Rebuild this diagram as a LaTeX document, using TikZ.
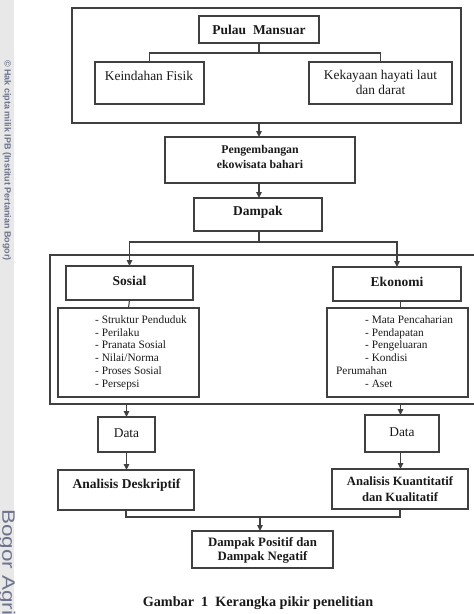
\documentclass[tikz,border=0pt]{standalone}
\usepackage{fontspec}
\setmainfont{Liberation Serif}
\newfontfamily\wmfont{Liberation Sans}
\usetikzlibrary{arrows.meta}
\definecolor{ln}{gray}{0.25}
\definecolor{wm}{RGB}{110,116,140}
\definecolor{strip}{gray}{0.91}
\tikzset{
  box/.style={draw=ln, line width=1.1pt, inner sep=0pt, outer sep=0pt},
  con/.style={draw=ln, line width=1.1pt},
  arr/.style={con, -{Triangle[length=6pt,width=5.5pt]}},
  txt/.style={inner sep=0pt, align=center, text=black!90},
  fA/.style={txt, font=\fontsize{13.4}{14.5}\selectfont},
  fB/.style={txt, font=\fontsize{13.5}{14.5}\selectfont\bfseries},
  fC/.style={txt, font=\fontsize{11.8}{15}\selectfont\bfseries},
  fK/.style={txt, font=\fontsize{12.6}{16}\selectfont\bfseries},
  fD/.style={txt, font=\fontsize{12.8}{14}\selectfont\bfseries},
  fL/.style={inner sep=0pt, align=left, text=black!90, font=\fontsize{11.3}{12.7}\selectfont},
}
\begin{document}
\begin{tikzpicture}[x=1pt,y=-1pt]
\useasboundingbox (0,0) rectangle (474,614);
% watermark strip
\fill[strip] (0,0) rectangle (14,614);
\node[rotate=-90, anchor=west, inner sep=0pt, text=wm, font=\wmfont\fontsize{9}{9}\selectfont\bfseries] (wma) at (7,60) {©~Hak cipta milik IPB (Institut Pertanian Bogor)};
\node[rotate=-90, anchor=west, inner sep=0pt, text=wm, font=\wmfont\fontsize{18}{18}\selectfont] (wmb) at (7,509) {\scalebox{1.25}[1]{Bogor Agri}};

% top group
\node[box, minimum width=389pt, minimum height=115pt] (outer1) at (266.5,65.5) {};
\node[box, minimum width=120pt, minimum height=27pt] (pm) at (259,29.5) {};
\node[fB] (pmt) at (259,30) {Pulau~~Mansuar};
\node[box, minimum width=109pt, minimum height=42pt] (kf) at (149.5,83) {};
\node[fA] (kft) at (149,75.5) {Keindahan Fisik};
\node[box, minimum width=143pt, minimum height=42pt] (kk) at (380.5,83) {};
\node[fA] (kkt) at (380.5,82.5) {Kekayaan hayati laut\\dan darat};
\coordinate (j1) at (259,53);
\draw[con] (pm.south) -- (j1);
\draw[con] (kf.north) |- (j1) -| (kk.north);

\node[box, minimum width=190pt, minimum height=46pt] (peng) at (260,160) {};
\node[fC] (pengt) at (260,156.5) {Pengembangan\\ekowisata bahari};
\draw[arr] (outer1.south -| pm.south) -- (pm.south |- peng.north);

\node[box, minimum width=128pt, minimum height=33pt] (dampak) at (258,214.5) {};
\node[fB] (dampakt) at (258,212) {Dampak};
\draw[arr] (pm.south |- peng.south) -- (pm.south |- dampak.north);

% middle group
\node[box, minimum width=430pt, minimum height=149pt] (outer2) at (265,329.5) {};
\node[box, minimum width=127pt, minimum height=34pt] (sosial) at (129.5,283) {};
\node[fB] (sosialt) at (129.5,280.5) {Sosial};
\node[box, minimum width=128pt, minimum height=34pt] (ekonomi) at (397,284) {};
\node[fB] (ekonomit) at (397,281.5) {Ekonomi};
\coordinate (j2) at (259,242);
\draw[con] (dampak.south -| j2) -- (j2);
\draw[arr] (j2) -| (sosial.north);
\draw[arr] (j2) -| (ekonomi.north);

\node[box, minimum width=141pt, minimum height=89pt] (slist) at (128.5,352.5) {};
\node[fL, anchor=north west] (slistt) at (95,315.5) {- Struktur Penduduk\\- Perilaku\\- Pranata Sosial\\- Nilai/Norma\\- Proses Sosial\\- Persepsi};
\node[box, minimum width=141pt, minimum height=89pt] (elist) at (397.5,352.5) {};
\node[fL, anchor=north west] (elistt) at (336,315.5) {\hspace*{29pt}- Mata Pencaharian\\\hspace*{29pt}- Pendapatan\\\hspace*{29pt}- Pengeluaran\\\hspace*{29pt}- Kondisi\\Perumahan\\\hspace*{29pt}- Aset};
\draw[con] (sosial.south) -- (slist.north);
\coordinate (ex) at (400.5,0);
\draw[con] (ekonomi.south -| ex) -- (elist.north -| ex);

% lower group
\node[box, minimum width=57pt, minimum height=35pt] (dl) at (126.5,434.5) {};
\node[fA] (dlt) at (126.5,433) {Data};
\node[box, minimum width=74pt, minimum height=37pt] (dr) at (402,433.5) {};
\node[fA] (drt) at (402,432.5) {Data};
\draw[arr] (outer2.south -| dl.north) -- (dl.north);
\draw[arr] (outer2.south -| ex) -- (dr.north -| ex);

\node[box, minimum width=136pt, minimum height=40pt] (adesk) at (126,490) {};
\node[fB] (adeskt) at (126.5,485) {Analisis Deskriptif};
\node[box, minimum width=136pt, minimum height=40pt] (akuan) at (400,489) {};
\node[fK] (akuant) at (400,489.5) {Analisis Kuantitatif\\dan Kualitatif};
\draw[arr] (dl.south) -- (dl.south |- adesk.north);
\draw[arr] (dr.south -| ex) -- (akuan.north -| ex);

\node[box, minimum width=141pt, minimum height=37pt] (dpos) at (262.5,549.5) {};
\node[fD] (dpost) at (262.5,550.5) {Dampak Positif dan\\Dampak Negatif};
\coordinate (j3) at (260,517);
\draw[con] (adesk.south) |- (j3) -| (akuan.south);
\draw[arr] (j3) -- (j3 |- dpos.north);

\node[txt, font=\fontsize{14.2}{15}\selectfont\bfseries] (cap) at (258,603) {Gambar~~1~~Kerangka pikir penelitian};
\end{tikzpicture}
\end{document}
